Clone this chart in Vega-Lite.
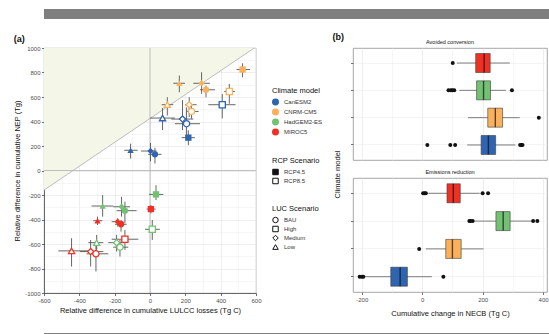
{
  "$schema": "https://vega.github.io/schema/vega-lite/v6.json",
  "padding": {"left": 13, "top": 8, "right": 0, "bottom": 0},
  "background": "white",
  "spacing": 14,
  "config": {
    "font": "Liberation Sans",
    "view": {"stroke": null},
    "axis": {"labelFont": "Liberation Sans", "titleFont": "Liberation Sans", "labelFontSize": 6, "labelColor": "#4d4d4d", "titleFontSize": 7.5, "titleFontWeight": "normal", "titleColor": "#111", "tickColor": "#333", "tickSize": 2.5, "tickWidth": 0.7, "domainColor": "#333", "domainWidth": 0.7, "labelPadding": 1.5, "titlePadding": 3, "labelFlush": false, "labelOverlap": false, "gridWidth": 0.6},
    "legend": {"titleFont": "Liberation Sans", "labelFont": "Liberation Sans", "titleFontSize": 7.5, "titleFontWeight": "normal", "titleColor": "#111", "labelFontSize": 6, "labelColor": "#333", "symbolSize": 30, "rowPadding": -5, "titlePadding": 4, "labelOffset": 5, "padding": 0},
    "title": {"font": "Liberation Sans", "color": "#111"}
  },
  "datasets": {
    "ref": [{"lx": -600, "ly": -160}, {"lx": 590, "ly": 1000}],
    "pts": [
      {"model": "CanESM2", "rcp": "RCP4.5", "luc": "Low", "x": -110, "y": 165, "xmin": -146, "xmax": -70, "ymin": 98, "ymax": 219},
      {"model": "CanESM2", "rcp": "RCP4.5", "luc": "Medium", "x": 3, "y": 159, "xmin": -51, "xmax": 37, "ymin": 75, "ymax": 225},
      {"model": "CanESM2", "rcp": "RCP4.5", "luc": "BAU", "x": 28, "y": 132, "xmin": -10, "xmax": 65, "ymin": 57, "ymax": 185},
      {"model": "CanESM2", "rcp": "RCP4.5", "luc": "High", "x": 217, "y": 268, "xmin": 179, "xmax": 254, "ymin": 206, "ymax": 328},
      {"model": "CanESM2", "rcp": "RCP8.5", "luc": "Low", "x": 71, "y": 428, "xmin": 0, "xmax": 141, "ymin": 330, "ymax": 510},
      {"model": "CanESM2", "rcp": "RCP8.5", "luc": "Medium", "x": 184, "y": 420, "xmin": 120, "xmax": 245, "ymin": 330, "ymax": 575},
      {"model": "CanESM2", "rcp": "RCP8.5", "luc": "BAU", "x": 207, "y": 382, "xmin": 141, "xmax": 283, "ymin": 260, "ymax": 515},
      {"model": "CanESM2", "rcp": "RCP8.5", "luc": "High", "x": 409, "y": 537, "xmin": 330, "xmax": 484, "ymin": 425, "ymax": 625},
      {"model": "CNRM-CM5", "rcp": "RCP4.5", "luc": "Low", "x": 166, "y": 712, "xmin": 132, "xmax": 198, "ymin": 639, "ymax": 775},
      {"model": "CNRM-CM5", "rcp": "RCP4.5", "luc": "Medium", "x": 292, "y": 712, "xmin": 245, "xmax": 339, "ymin": 626, "ymax": 802},
      {"model": "CNRM-CM5", "rcp": "RCP4.5", "luc": "BAU", "x": 317, "y": 659, "xmin": 283, "xmax": 368, "ymin": 598, "ymax": 693},
      {"model": "CNRM-CM5", "rcp": "RCP4.5", "luc": "High", "x": 524, "y": 824, "xmin": 490, "xmax": 566, "ymin": 761, "ymax": 875},
      {"model": "CNRM-CM5", "rcp": "RCP8.5", "luc": "Low", "x": 98, "y": 537, "xmin": 66, "xmax": 132, "ymin": 449, "ymax": 598},
      {"model": "CNRM-CM5", "rcp": "RCP8.5", "luc": "Medium", "x": 222, "y": 537, "xmin": 198, "xmax": 264, "ymin": 436, "ymax": 598},
      {"model": "CNRM-CM5", "rcp": "RCP8.5", "luc": "BAU", "x": 235, "y": 482, "xmin": 210, "xmax": 275, "ymin": 423, "ymax": 531},
      {"model": "CNRM-CM5", "rcp": "RCP8.5", "luc": "High", "x": 449, "y": 645, "xmin": 420, "xmax": 481, "ymin": 545, "ymax": 707},
      {"model": "HadGEM2-ES", "rcp": "RCP4.5", "luc": "Low", "x": -268, "y": -290, "xmin": -331, "xmax": -208, "ymin": -377, "ymax": -201},
      {"model": "HadGEM2-ES", "rcp": "RCP4.5", "luc": "Medium", "x": -161, "y": -296, "xmin": -208, "xmax": -113, "ymin": -377, "ymax": -215},
      {"model": "HadGEM2-ES", "rcp": "RCP4.5", "luc": "BAU", "x": -142, "y": -328, "xmin": -189, "xmax": -76, "ymin": -431, "ymax": -255},
      {"model": "HadGEM2-ES", "rcp": "RCP4.5", "luc": "High", "x": 34, "y": -195, "xmin": -5, "xmax": 75, "ymin": -241, "ymax": -120},
      {"model": "HadGEM2-ES", "rcp": "RCP8.5", "luc": "Low", "x": -302, "y": -589, "xmin": -349, "xmax": -264, "ymin": -648, "ymax": -526},
      {"model": "HadGEM2-ES", "rcp": "RCP8.5", "luc": "Medium", "x": -189, "y": -589, "xmin": -236, "xmax": -142, "ymin": -662, "ymax": -526},
      {"model": "HadGEM2-ES", "rcp": "RCP8.5", "luc": "BAU", "x": -170, "y": -626, "xmin": -208, "xmax": -123, "ymin": -702, "ymax": -567},
      {"model": "HadGEM2-ES", "rcp": "RCP8.5", "luc": "High", "x": 13, "y": -480, "xmin": -28, "xmax": 56, "ymin": -567, "ymax": -404},
      {"model": "MIROC5", "rcp": "RCP4.5", "luc": "Low", "x": -297, "y": -410, "xmin": -321, "xmax": -270, "ymin": -445, "ymax": -377},
      {"model": "MIROC5", "rcp": "RCP4.5", "luc": "Medium", "x": -183, "y": -418, "xmin": -217, "xmax": -151, "ymin": -458, "ymax": -390},
      {"model": "MIROC5", "rcp": "RCP4.5", "luc": "BAU", "x": -164, "y": -439, "xmin": -198, "xmax": -132, "ymin": -499, "ymax": -404},
      {"model": "MIROC5", "rcp": "RCP4.5", "luc": "High", "x": 5, "y": -315, "xmin": -19, "xmax": 32, "ymin": -350, "ymax": -282},
      {"model": "MIROC5", "rcp": "RCP8.5", "luc": "Low", "x": -444, "y": -656, "xmin": -519, "xmax": -349, "ymin": -784, "ymax": -553},
      {"model": "MIROC5", "rcp": "RCP8.5", "luc": "Medium", "x": -336, "y": -662, "xmin": -396, "xmax": -264, "ymin": -784, "ymax": -567},
      {"model": "MIROC5", "rcp": "RCP8.5", "luc": "BAU", "x": -306, "y": -680, "xmin": -359, "xmax": -236, "ymin": -824, "ymax": -607},
      {"model": "MIROC5", "rcp": "RCP8.5", "luc": "High", "x": -142, "y": -561, "xmin": -217, "xmax": -66, "ymin": -648, "ymax": -485}
    ],
    "box": [
      {"panel": "Avoided conversion", "model": "MIROC5", "lo": 115, "q1": 177, "med": 205, "q3": 225, "hi": 290},
      {"panel": "Avoided conversion", "model": "HadGEM2-ES", "lo": 123, "q1": 180, "med": 203, "q3": 226, "hi": 277},
      {"panel": "Avoided conversion", "model": "CNRM-CM5", "lo": 152, "q1": 217, "med": 242, "q3": 266, "hi": 323},
      {"panel": "Avoided conversion", "model": "CanESM2", "lo": 149, "q1": 195, "med": 219, "q3": 243, "hi": 308},
      {"panel": "Emissions reduction", "model": "MIROC5", "lo": 20, "q1": 82, "med": 103, "q3": 126, "hi": 190},
      {"panel": "Emissions reduction", "model": "HadGEM2-ES", "lo": 172, "q1": 244, "med": 268, "q3": 291, "hi": 362},
      {"panel": "Emissions reduction", "model": "CNRM-CM5", "lo": 12, "q1": 78, "med": 100, "q3": 129, "hi": 203},
      {"panel": "Emissions reduction", "model": "CanESM2", "lo": -190, "q1": -104, "med": -73, "q3": -49, "hi": 32}
    ],
    "out": [
      {"panel": "Avoided conversion", "model": "MIROC5", "v": 101},
      {"panel": "Avoided conversion", "model": "HadGEM2-ES", "v": 87},
      {"panel": "Avoided conversion", "model": "HadGEM2-ES", "v": 95},
      {"panel": "Avoided conversion", "model": "HadGEM2-ES", "v": 100},
      {"panel": "Avoided conversion", "model": "HadGEM2-ES", "v": 106},
      {"panel": "Avoided conversion", "model": "HadGEM2-ES", "v": 297},
      {"panel": "Avoided conversion", "model": "CNRM-CM5", "v": 386},
      {"panel": "Avoided conversion", "model": "CanESM2", "v": 17},
      {"panel": "Avoided conversion", "model": "CanESM2", "v": 93},
      {"panel": "Avoided conversion", "model": "CanESM2", "v": 109},
      {"panel": "Avoided conversion", "model": "CanESM2", "v": 324},
      {"panel": "Avoided conversion", "model": "CanESM2", "v": 328},
      {"panel": "Avoided conversion", "model": "CanESM2", "v": 332},
      {"panel": "Emissions reduction", "model": "MIROC5", "v": 3},
      {"panel": "Emissions reduction", "model": "MIROC5", "v": 8},
      {"panel": "Emissions reduction", "model": "MIROC5", "v": 12},
      {"panel": "Emissions reduction", "model": "MIROC5", "v": 200},
      {"panel": "Emissions reduction", "model": "MIROC5", "v": 218},
      {"panel": "Emissions reduction", "model": "HadGEM2-ES", "v": 156},
      {"panel": "Emissions reduction", "model": "HadGEM2-ES", "v": 160},
      {"panel": "Emissions reduction", "model": "HadGEM2-ES", "v": 167},
      {"panel": "Emissions reduction", "model": "HadGEM2-ES", "v": 367},
      {"panel": "Emissions reduction", "model": "HadGEM2-ES", "v": 381},
      {"panel": "Emissions reduction", "model": "CNRM-CM5", "v": -10},
      {"panel": "Emissions reduction", "model": "CanESM2", "v": -207},
      {"panel": "Emissions reduction", "model": "CanESM2", "v": -200},
      {"panel": "Emissions reduction", "model": "CanESM2", "v": -195},
      {"panel": "Emissions reduction", "model": "CanESM2", "v": 70}
    ]
  },
  "vconcat": [
    {
      "width": 536, "height": 10,
      "view": {"fill": "#7f7f7f", "stroke": null},
      "data": {"values": [{}]},
      "mark": {"type": "text", "text": ""},
      "encoding": {}
    },
    {
      "spacing": 15,
      "vconcat": [
        {
          "hconcat": [
            {
              "width": 212, "height": 245,
              "title": {"text": "(a)", "anchor": "start", "frame": "bounds", "fontSize": 9, "fontWeight": "bold", "offset": 1},
              "view": {"stroke": "#aaaaaa", "strokeWidth": 0.7},
              "layer": [
                {
                  "data": {"name": "ref"},
                  "mark": {"type": "area", "color": "#f4f6e7"},
                  "encoding": {
                    "x": {"field": "lx", "type": "quantitative", "scale": {"domain": [-600, 600], "nice": false, "zero": false},
                      "axis": {"title": "Relative difference in cumulative LULCC losses (Tg C)", "tickCount": 40, "labelOverlap": false, "values": [-600, -500, -400, -300, -200, -100, 0, 100, 200, 300, 400, 500, 600], "labelExpr": "datum.value % 200 === 0 ? '' + datum.value : ''", "tickOpacity": {"condition": {"test": "datum.value % 200 !== 0", "value": 0}, "value": 1}, "grid": true, "gridColor": {"condition": {"test": "datum.value % 200 === 0", "value": "#e2e2e2"}, "value": "#f0f0f0"}}},
                    "y": {"field": "ly", "type": "quantitative", "scale": {"domain": [-1000, 1000], "nice": false, "zero": false},
                      "axis": {"title": "Relative difference in cumulative NEP (Tg)", "tickCount": 40, "labelOverlap": false, "values": [-1000, -900, -800, -700, -600, -500, -400, -300, -200, -100, 0, 100, 200, 300, 400, 500, 600, 700, 800, 900, 1000], "labelExpr": "datum.value % 200 === 0 ? '' + datum.value : ''", "tickOpacity": {"condition": {"test": "datum.value % 200 !== 0", "value": 0}, "value": 1}, "grid": true, "gridColor": {"condition": {"test": "datum.value % 200 === 0", "value": "#e2e2e2"}, "value": "#f0f0f0"}}},
                    "y2": {"datum": 1000}
                  }
                },
                {
                  "data": {"name": "ref"},
                  "mark": {"type": "line", "color": "#bdbdbd", "strokeWidth": 1},
                  "encoding": {"x": {"field": "lx", "type": "quantitative"}, "y": {"field": "ly", "type": "quantitative"}}
                },
                {
                  "data": {"values": [{}]},
                  "mark": {"type": "rule", "color": "#b0b0b0", "strokeWidth": 0.8},
                  "encoding": {"x": {"datum": 0, "type": "quantitative"}}
                },
                {
                  "data": {"values": [{}]},
                  "mark": {"type": "rule", "color": "#b0b0b0", "strokeWidth": 0.8},
                  "encoding": {"y": {"datum": 0, "type": "quantitative"}}
                },
                {
                  "data": {"name": "pts"},
                  "mark": {"type": "rule", "color": "#555555", "strokeWidth": 0.9},
                  "encoding": {"x": {"field": "xmin", "type": "quantitative"}, "x2": {"field": "xmax"}, "y": {"field": "y", "type": "quantitative"}}
                },
                {
                  "data": {"name": "pts"},
                  "mark": {"type": "rule", "color": "#555555", "strokeWidth": 0.9},
                  "encoding": {"x": {"field": "x", "type": "quantitative"}, "y": {"field": "ymin", "type": "quantitative"}, "y2": {"field": "ymax"}}
                },
                {
                  "data": {"name": "pts"},
                  "mark": {"type": "point", "filled": true, "shape": "square", "opacity": 0},
                  "encoding": {
                    "x": {"field": "x", "type": "quantitative"},
                    "y": {"field": "y", "type": "quantitative"},
                    "fill": {"field": "rcp", "type": "nominal", "scale": {"domain": ["RCP4.5", "RCP8.5"], "range": ["#111111", "#ffffff"]},
                      "legend": {"title": "RCP Scenario", "orient": "none", "legendX": 228, "legendY": 109, "symbolType": "square", "symbolOpacity": 1, "symbolStrokeColor": "#111", "symbolStrokeWidth": 1}}
                  }
                },
                {
                  "data": {"name": "pts"},
                  "transform": [{"filter": "datum.rcp === 'RCP4.5'"}],
                  "mark": {"type": "point", "filled": true, "size": 40, "opacity": 1},
                  "encoding": {
                    "x": {"field": "x", "type": "quantitative"},
                    "y": {"field": "y", "type": "quantitative"},
                    "color": {"field": "model", "type": "nominal", "scale": {"domain": ["CanESM2", "CNRM-CM5", "HadGEM2-ES", "MIROC5"], "range": ["#2f64b1", "#fbb05c", "#73c274", "#ee3124"]},
                      "legend": {"title": "Climate model", "orient": "none", "legendX": 228, "legendY": 39, "symbolType": "circle"}},
                    "shape": {"field": "luc", "type": "nominal", "scale": {"domain": ["BAU", "High", "Medium", "Low"], "range": ["circle", "square", "diamond", "triangle-up"]},
                      "legend": {"title": "LUC Scenario", "orient": "none", "legendX": 228, "legendY": 157, "symbolFillColor": "white", "symbolStrokeColor": "#111", "symbolStrokeWidth": 1, "encode": {"symbols": {"fill": {"value": "white"}, "stroke": {"value": "#111"}, "strokeWidth": {"value": 1}}}}}
                  }
                },
                {
                  "data": {"name": "pts"},
                  "transform": [{"filter": "datum.rcp === 'RCP8.5'"}],
                  "mark": {"type": "point", "filled": false, "size": 38, "strokeWidth": 1.3, "opacity": 1},
                  "encoding": {
                    "x": {"field": "x", "type": "quantitative"},
                    "y": {"field": "y", "type": "quantitative"},
                    "fill": {"value": "white"},
                    "color": {"field": "model", "type": "nominal"},
                    "shape": {"field": "luc", "type": "nominal"}
                  }
                }
              ]
            },
            {
              "title": {"text": "(b)", "anchor": "start", "frame": "bounds", "fontSize": 9, "fontWeight": "bold", "offset": -3},
              "spacing": 18,
              "bounds": "flush",
              "vconcat": [
                {
                  "width": 194, "height": 112,
                  "title": {"text": "Avoided conversion", "fontSize": 5.5, "fontWeight": "normal", "offset": 3},
                  "view": {"stroke": "#8f8f8f", "strokeWidth": 0.8},
                  "layer": [
                    {
                      "data": {"name": "box"},
                      "transform": [{"filter": "datum.panel === 'Avoided conversion'"}],
                      "mark": {"type": "rule", "color": "#6e6e6e", "strokeWidth": 0.9},
                      "encoding": {
                        "x": {"field": "lo", "type": "quantitative", "scale": {"domain": [-229, 413], "nice": false, "zero": false},
                          "axis": {"title": null, "tickCount": 40, "labels": false, "ticks": false, "domain": false, "grid": true, "values": [-200, -100, 0, 100, 200, 300, 400], "gridColor": {"condition": {"test": "datum.value % 200 === 0", "value": "#e2e2e2"}, "value": "#f0f0f0"}}},
                        "x2": {"field": "hi"},
                        "y": {"field": "model", "type": "nominal", "scale": {"domain": ["MIROC5", "HadGEM2-ES", "CNRM-CM5", "CanESM2"], "paddingInner": 0, "paddingOuter": 0.05},
                          "axis": {"title": "Climate model", "titleX": -12, "titleY": 126, "labels": false, "ticks": true, "domain": false, "grid": true, "gridColor": "#ececec", "tickBand": "center"}}
                      }
                    },
                    {
                      "data": {"name": "box"},
                      "transform": [{"filter": "datum.panel === 'Avoided conversion'"}],
                      "mark": {"type": "bar", "size": 19, "stroke": "#3d3d3d", "strokeWidth": 0.6},
                      "encoding": {
                        "x": {"field": "q1", "type": "quantitative"},
                        "x2": {"field": "q3"},
                        "y": {"field": "model", "type": "nominal"},
                        "color": {"field": "model", "type": "nominal", "scale": {"domain": ["CanESM2", "CNRM-CM5", "HadGEM2-ES", "MIROC5"], "range": ["#2f64b1", "#fbb05c", "#73c274", "#ee3124"]}, "legend": null}
                      }
                    },
                    {
                      "data": {"name": "box"},
                      "transform": [{"filter": "datum.panel === 'Avoided conversion'"}],
                      "mark": {"type": "tick", "color": "#111", "thickness": 1.4, "size": 19},
                      "encoding": {"x": {"field": "med", "type": "quantitative"}, "y": {"field": "model", "type": "nominal"}}
                    },
                    {
                      "data": {"name": "out"},
                      "transform": [{"filter": "datum.panel === 'Avoided conversion'"}],
                      "mark": {"type": "circle", "color": "#111", "size": 16, "opacity": 1},
                      "encoding": {"x": {"field": "v", "type": "quantitative"}, "y": {"field": "model", "type": "nominal"}}
                    }
                  ]
                },
                {
                  "width": 194, "height": 114,
                  "title": {"text": "Emissions reduction", "fontSize": 5.5, "fontWeight": "normal", "offset": 3},
                  "view": {"stroke": "#8f8f8f", "strokeWidth": 0.8},
                  "layer": [
                    {
                      "data": {"name": "box"},
                      "transform": [{"filter": "datum.panel === 'Emissions reduction'"}],
                      "mark": {"type": "rule", "color": "#6e6e6e", "strokeWidth": 0.9},
                      "encoding": {
                        "x": {"field": "lo", "type": "quantitative", "scale": {"domain": [-229, 413], "nice": false, "zero": false},
                          "axis": {"title": "Cumulative change in NECB (Tg C)", "tickCount": 40, "titlePadding": 7, "labelPadding": 2, "labelOverlap": false, "domain": false, "grid": true, "values": [-200, -100, 0, 100, 200, 300, 400], "labelExpr": "datum.value % 200 === 0 ? '' + datum.value : ''", "tickOpacity": {"condition": {"test": "datum.value % 200 !== 0", "value": 0}, "value": 1}, "gridColor": {"condition": {"test": "datum.value % 200 === 0", "value": "#e2e2e2"}, "value": "#f0f0f0"}}},
                        "x2": {"field": "hi"},
                        "y": {"field": "model", "type": "nominal", "scale": {"domain": ["MIROC5", "HadGEM2-ES", "CNRM-CM5", "CanESM2"], "paddingInner": 0, "paddingOuter": 0.05},
                          "axis": {"title": null, "labels": false, "ticks": true, "domain": false, "grid": true, "gridColor": "#ececec", "tickBand": "center"}}
                      }
                    },
                    {
                      "data": {"name": "box"},
                      "transform": [{"filter": "datum.panel === 'Emissions reduction'"}],
                      "mark": {"type": "bar", "size": 19, "stroke": "#3d3d3d", "strokeWidth": 0.6},
                      "encoding": {
                        "x": {"field": "q1", "type": "quantitative"},
                        "x2": {"field": "q3"},
                        "y": {"field": "model", "type": "nominal"},
                        "color": {"field": "model", "type": "nominal", "scale": {"domain": ["CanESM2", "CNRM-CM5", "HadGEM2-ES", "MIROC5"], "range": ["#2f64b1", "#fbb05c", "#73c274", "#ee3124"]}, "legend": null}
                      }
                    },
                    {
                      "data": {"name": "box"},
                      "transform": [{"filter": "datum.panel === 'Emissions reduction'"}],
                      "mark": {"type": "tick", "color": "#111", "thickness": 1.4, "size": 19},
                      "encoding": {"x": {"field": "med", "type": "quantitative"}, "y": {"field": "model", "type": "nominal"}}
                    },
                    {
                      "data": {"name": "out"},
                      "transform": [{"filter": "datum.panel === 'Emissions reduction'"}],
                      "mark": {"type": "circle", "color": "#111", "size": 16, "opacity": 1},
                      "encoding": {"x": {"field": "v", "type": "quantitative"}, "y": {"field": "model", "type": "nominal"}}
                    }
                  ]
                }
              ]
            }
          ],
          "spacing": 8,
          "resolve": {"scale": {"color": "independent", "shape": "independent", "fill": "independent"}}
        },
        {
          "width": 536, "height": 12,
          "view": {"fill": "#7f7f7f", "stroke": null},
          "data": {"values": [{}]},
          "mark": {"type": "text", "text": ""},
          "encoding": {}
        }
      ]
    }
  ]
}
